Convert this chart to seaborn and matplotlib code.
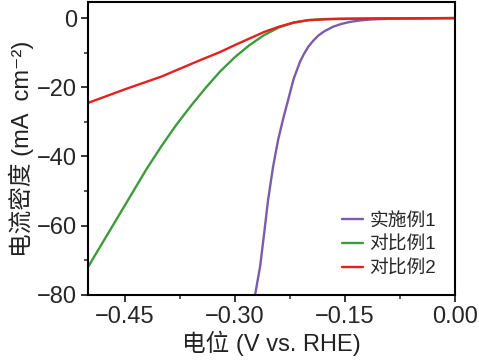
import numpy as np
import pandas as pd
import matplotlib
matplotlib.use("Agg")
import matplotlib.pyplot as plt
import seaborn as sns
from matplotlib.ticker import MultipleLocator

# 數據 (從圖上讀取的 LSV 曲線)
purple_x = [-0.2725, -0.2657, -0.2600, -0.2548, -0.2480, -0.2411, -0.2340, -0.2275,
            -0.2200, -0.2112, -0.2060, -0.2000, -0.1935, -0.1860, -0.1780, -0.1662,
            -0.1550, -0.1430, -0.1300, -0.1150, -0.0900, -0.0500, 0.0]
purple_y = [-80.0, -71.9, -62.0, -52.6, -43.0, -35.2, -28.9, -23.7,
            -17.6, -12.6, -10.4, -8.3, -6.6, -5.0, -3.8, -2.5,
            -1.7, -1.1, -0.7, -0.4, -0.2, -0.1, 0.0]

green_x = [-0.50, -0.48, -0.46, -0.44, -0.42, -0.40, -0.38, -0.36, -0.34, -0.32,
           -0.30, -0.28, -0.26, -0.24, -0.22, -0.20, -0.18, -0.15, -0.10, -0.05, 0.0]
green_y = [-71.9, -64.8, -57.7, -50.6, -43.5, -37.0, -30.9, -25.4, -20.2, -15.4,
           -11.3, -7.8, -4.9, -2.7, -1.3, -0.6, -0.3, -0.15, -0.1, -0.05, 0.0]

red_x = [-0.50, -0.45, -0.40, -0.35, -0.32, -0.30, -0.28, -0.26, -0.24,
         -0.22, -0.20, -0.17, -0.12, -0.05, 0.0]
red_y = [-24.5, -20.6, -16.9, -12.4, -9.8, -7.8, -5.9, -4.0, -2.5,
         -1.3, -0.6, -0.3, -0.15, -0.05, 0.0]

labels = ["实施例1", "对比例1", "对比例2"]
colors = ["#7a5cab", "#3c9c3a", "#e3211f"]

df = pd.concat([
    pd.DataFrame({"E": purple_x, "j": purple_y, "sample": labels[0]}),
    pd.DataFrame({"E": green_x, "j": green_y, "sample": labels[1]}),
    pd.DataFrame({"E": red_x, "j": red_y, "sample": labels[2]}),
])

sns.set_style("white")
plt.rcParams['font.family'] = ['Liberation Sans', 'Noto Sans CJK SC', 'DejaVu Sans']

fig = plt.figure(figsize=(4.79, 3.6), dpi=100)
ax = fig.add_axes([0.184, 0.181, 0.766, 0.813])

sns.lineplot(data=df, x="E", y="j", hue="sample", palette=colors,
             hue_order=labels, estimator=None, sort=False, linewidth=1.7, ax=ax)

ax.set_xlim(-0.5, 0.0)
ax.set_ylim(-80, 4.6)
ax.xaxis.set_major_locator(MultipleLocator(0.15))
ax.xaxis.set_minor_locator(MultipleLocator(0.075))
ax.yaxis.set_major_locator(MultipleLocator(20))
ax.yaxis.set_minor_locator(MultipleLocator(10))
ax.set_xticks([-0.45, -0.30, -0.15, 0.00])
ax.set_xticklabels(["\u22120.45", "\u22120.30", "\u22120.15", "0.00"])

ax.tick_params(axis="both", which="major", direction="out", length=5, width=1.3,
               labelsize=17, bottom=True, left=True, top=False, right=False, pad=3)
ax.tick_params(axis="both", which="minor", direction="out", length=3, width=1.1,
               bottom=True, left=True, top=False, right=False)
for s in ax.spines.values():
    s.set_linewidth(1.5)
    s.set_color("black")

ax.set_xlabel("电位 (V vs. RHE)", fontsize=17, labelpad=2, color="#222222")
ax.set_ylabel("电流密度 (mA  cm\u207b\u00b2)", fontsize=17, labelpad=2, color="#222222")

leg = ax.legend(loc="lower right", frameon=False, fontsize=13.5, handlelength=1.1,
                handletextpad=0.35, labelspacing=0.38, bbox_to_anchor=(0.995, 0.0))
for line in leg.get_lines():
    line.set_linewidth(1.7)

plt.savefig("out.png", dpi=100)
